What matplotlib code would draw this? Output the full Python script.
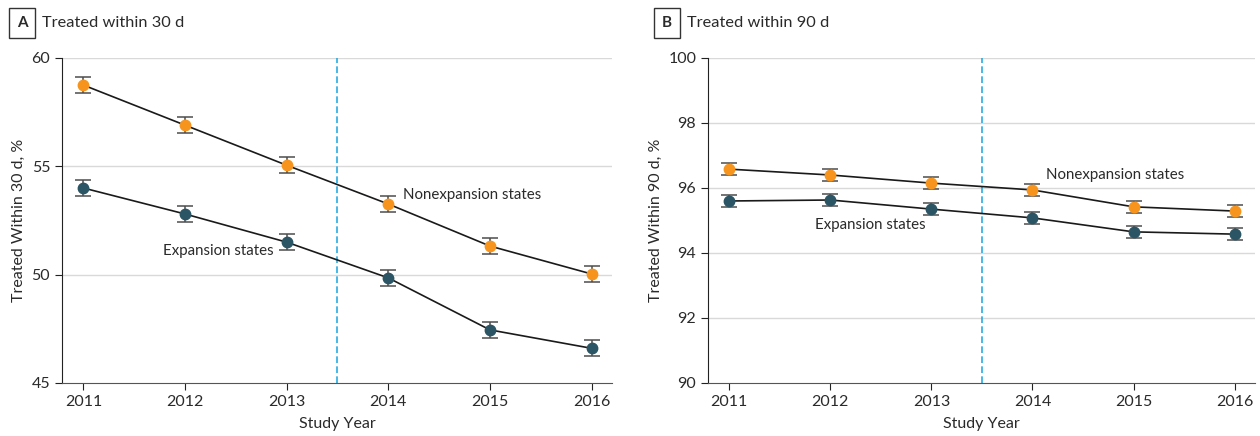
import matplotlib.pyplot as plt

plt.rcParams['font.family'] = ['Lato', 'DejaVu Sans']

years = [2011, 2012, 2013, 2014, 2015, 2016]

# A: treated within 30 d
a_non = [58.75, 56.9, 55.05, 53.26, 51.32, 50.03]
a_exp = [54.0, 52.8, 51.5, 49.85, 47.45, 46.6]
a_err = 0.37

# B: treated within 90 d
b_non = [96.58, 96.4, 96.15, 95.94, 95.42, 95.29]
b_exp = [95.6, 95.63, 95.35, 95.08, 94.65, 94.58]
b_err = 0.18

orange = '#F7941D'
teal = '#2B5564'
grey = '#4d4d4d'
txt = '#2a2a2a'

fig = plt.figure(figsize=(12.6, 4.36), dpi=100)
axA = fig.add_axes([0.0492, 0.1216, 0.4365, 0.7454])
axB = fig.add_axes([0.5619, 0.1216, 0.434, 0.7454])


def panel(ax, non, exp, err, ylim, yticks, ylabel):
    for s in ['top', 'right']:
        ax.spines[s].set_visible(False)
    ax.spines['left'].set_color('#222222')
    ax.spines['bottom'].set_color('#555555')
    ax.set_xlim(2010.79, 2016.2)
    ax.set_ylim(*ylim)
    ax.set_yticks(yticks)
    ax.set_xticks(years)
    ax.tick_params(labelsize=11.5, color='#222222', labelcolor=txt, length=5)
    for t in yticks[1:]:
        ax.axhline(t, color='#d9d9d9', lw=1, zorder=0)
    ax.axvline(2013.5, color='#29ABE2', lw=1.2, ls=(0, (4, 2)), zorder=1)
    for vals, c in [(non, orange), (exp, teal)]:
        ax.plot(years, vals, color='#1a1a1a', lw=1.2, zorder=2)
        ax.errorbar(years, vals, yerr=err, fmt='none', ecolor=grey,
                    elinewidth=1.1, capsize=6, capthick=1.1, zorder=3)
        ax.plot(years, vals, 'o', color=c, ms=7.5, zorder=4)
    ax.set_xlabel('Study Year', fontsize=11.5, color=txt, labelpad=6)
    ax.set_ylabel(ylabel, fontsize=11.5, color=txt)


panel(axA, a_non, a_exp, a_err, (45, 60), [45, 50, 55, 60], 'Treated Within 30 d, %')
panel(axB, b_non, b_exp, b_err, (90, 100), [90, 92, 94, 96, 98, 100], 'Treated Within 90 d, %')

fs = 10.8
axA.text(2014.14, 53.68, 'Nonexpansion states', fontsize=fs, color=txt, va='center')
axA.text(2012.87, 51.09, 'Expansion states', fontsize=fs, color=txt, va='center', ha='right')
axB.text(2014.13, 96.4, 'Nonexpansion states', fontsize=fs, color=txt, va='center')
axB.text(2011.85, 94.86, 'Expansion states', fontsize=fs, color=txt, va='center')

for x, letter, title in [(22 / 1260, 'A', 'Treated within 30 d'), (667 / 1260, 'B', 'Treated within 90 d')]:
    fig.text(x, 1 - 23 / 436, letter, fontsize=11, fontweight='bold', ha='center', va='center',
             color=txt, bbox=dict(boxstyle='square,pad=0.5', fc='white', ec='#333333', lw=1))
    fig.text(x + 20 / 1260, 1 - 23 / 436, title, fontsize=11.8, color=txt, va='center')

fig.savefig('out.png', dpi=100)
